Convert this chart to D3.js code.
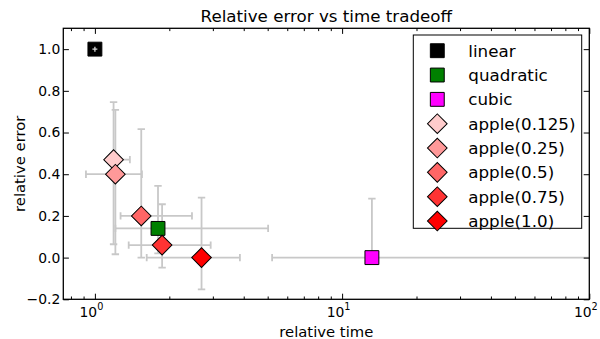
<!DOCTYPE html>
<html>
<head>
<meta charset="utf-8">
<script src="https://cdn.jsdelivr.net/npm/d3@7"></script>
<style>
  body { margin: 0; background: #fff; }
  svg { font-family: 'DejaVu Sans', sans-serif; display: block; }
</style>
</head>
<body>
<div id="chart"></div>
<script>
// values
const seriesNames = ['linear', 'quadratic', 'cubic', 'apple(0.125)', 'apple(0.25)', 'apple(0.5)', 'apple(0.75)', 'apple(1.0)'];
const relTime = [1.0, 1.80, 13.2, 1.19, 1.21, 1.54, 1.87, 2.70];
const relTimeLow = [0.977, 1.21, 5.21, 1.19, 0.92, 1.27, 1.37, 1.62];
const relTimeHigh = [1.023, 5.02, 150, 1.385, 1.55, 2.47, 2.94, 3.86];
const relError = [1.0, 0.14, 0.0, 0.47, 0.40, 0.20, 0.06, 0.0];
const relErrorLow = [0.988, 0.02, 0.0, 0.064, 0.016, 0.0, -0.048, -0.152];
const relErrorHigh = [1.012, 0.344, 0.283, 0.746, 0.709, 0.616, 0.256, 0.288];
const markerKinds = ['square', 'square', 'square', 'diamond', 'diamond', 'diamond', 'diamond', 'diamond'];
const markerColors = ['#000000', '#008000', '#ff00ff', '#ffcccc', '#ff9999', '#ff6666', '#ff3333', '#ff0000'];
const xTickValues = [1, 10, 100];
const xTickExponents = ['0', '1', '2'];
const xMinorTicks = [0.8, 0.9, 2, 3, 4, 5, 6, 7, 8, 9, 20, 30, 40, 50, 60, 70, 80, 90];
const yTickValues = [-0.2, 0, 0.2, 0.4, 0.6, 0.8, 1.0];

const svgWidth = 600;
const svgHeight = 339;
const margin = {top: 28.3, right: 10.7, bottom: 39.7, left: 63.3};
const width = svgWidth - margin.left - margin.right;
const height = svgHeight - margin.top - margin.bottom;

const points = seriesNames.map((name, i) => ({
  name,
  x: relTime[i], x0: relTimeLow[i], x1: relTimeHigh[i],
  y: relError[i], y0: relErrorLow[i], y1: relErrorHigh[i],
  kind: markerKinds[i], color: markerColors[i]
}));

const svg = d3.select('#chart').append('svg')
  .attr('width', svgWidth)
  .attr('height', svgHeight);

const g = svg.append('g')
  .attr('transform', `translate(${margin.left},${margin.top})`);

const xScale = d3.scaleLog().domain([0.745, 100]).range([0, width]);
const yScale = d3.scaleLinear().domain([-0.2, 1.1]).range([height, 0]);

const square = d3.symbol().type(d3.symbolSquare).size(193)();

g.append('clipPath').attr('id', 'plot-clip')
  .append('rect').attr('width', width).attr('height', height);

const plot = g.append('g').attr('clip-path', 'url(#plot-clip)');

// error bars, caps at both ends
function drawBars(sel, capHalf) {
  sel.append('line')
    .attr('x1', d => xScale(d.x0)).attr('x2', d => xScale(d.x1))
    .attr('y1', d => yScale(d.y)).attr('y2', d => yScale(d.y));
  sel.append('line')
    .attr('x1', d => xScale(d.x)).attr('x2', d => xScale(d.x))
    .attr('y1', d => yScale(d.y0)).attr('y2', d => yScale(d.y1));
  if (capHalf > 0) {
    [d => d.x0, d => d.x1].forEach(fx => {
      sel.append('line')
        .attr('x1', d => xScale(fx(d))).attr('x2', d => xScale(fx(d)))
        .attr('y1', d => yScale(d.y) - capHalf).attr('y2', d => yScale(d.y) + capHalf);
    });
    [d => d.y0, d => d.y1].forEach(fy => {
      sel.append('line')
        .attr('x1', d => xScale(d.x) - capHalf).attr('x2', d => xScale(d.x) + capHalf)
        .attr('y1', d => yScale(fy(d))).attr('y2', d => yScale(fy(d)));
    });
  }
}

// linear's bars fit inside its marker and show on top of it
const smallBars = d => d.name === 'linear';

plot.append('g')
  .attr('stroke', '#c8c8c8').attr('stroke-width', 1.8)
  .selectAll('g').data(points.filter(d => !smallBars(d))).enter().append('g')
  .call(drawBars, 3.7);

plot.append('g').selectAll('path')
  .data(points).enter().append('path')
  .attr('d', square)
  .attr('transform', d => `translate(${xScale(d.x)},${yScale(d.y)})` + (d.kind === 'diamond' ? ' rotate(45)' : ''))
  .attr('fill', d => d.color)
  .attr('stroke', '#000')
  .attr('stroke-width', 1);

plot.append('g')
  .attr('stroke', '#d8d8d8').attr('stroke-width', 1.3)
  .selectAll('g').data(points.filter(smallBars)).enter().append('g')
  .call(drawBars, 0);

// axes, ticks pointing inwards on all four sides
const axisBottom = g.append('g').attr('transform', `translate(0,${height})`)
  .call(d3.axisBottom(xScale).tickValues(xTickValues).tickSizeInner(-5.6).tickSizeOuter(0).tickFormat(''));
g.append('g').attr('transform', `translate(0,${height})`)
  .call(d3.axisBottom(xScale).tickValues(xMinorTicks).tickSizeInner(-2.8).tickSizeOuter(0).tickFormat(''));
g.append('g')
  .call(d3.axisTop(xScale).tickValues(xTickValues).tickSizeInner(-5.6).tickSizeOuter(0).tickFormat(''));
g.append('g')
  .call(d3.axisTop(xScale).tickValues(xMinorTicks).tickSizeInner(-2.8).tickSizeOuter(0).tickFormat(''));
const axisLeft = g.append('g')
  .call(d3.axisLeft(yScale).tickValues(yTickValues).tickSizeInner(-5.6).tickSizeOuter(0).tickPadding(3).tickFormat(d3.format('.1f')));
g.append('g').attr('transform', `translate(${width},0)`)
  .call(d3.axisRight(yScale).tickValues(yTickValues).tickSizeInner(-5.6).tickSizeOuter(0).tickFormat(''));

g.selectAll('.domain').remove();
g.selectAll('.tick line').attr('stroke', '#000').attr('stroke-width', 1);

axisLeft.selectAll('text')
  .attr('font-size', 13.9)
  .attr('font-family', 'DejaVu Sans')
  .attr('fill', '#000');

// 10^n labels
axisBottom.selectAll('.tick').each(function(d, i) {
  const t = d3.select(this).append('text')
    .attr('x', -4).attr('y', 17.4)
    .attr('text-anchor', 'middle')
    .attr('font-size', 13.9)
    .attr('font-family', 'DejaVu Sans')
    .attr('fill', '#000');
  t.append('tspan').text('10');
  t.append('tspan').attr('font-size', 9.7).attr('dy', -6.7).text(xTickExponents[i]);
});

g.append('rect')
  .attr('width', width).attr('height', height)
  .attr('fill', 'none').attr('stroke', '#000').attr('stroke-width', 1.3);

// titles
svg.append('text')
  .attr('x', margin.left + width / 2).attr('y', 22.2)
  .attr('text-anchor', 'middle').attr('font-size', 16.7)
  .text('Relative error vs time tradeoff');

svg.append('text')
  .attr('x', margin.left + width / 2).attr('y', 336.5)
  .attr('text-anchor', 'middle').attr('font-size', 14.8)
  .text('relative time');

svg.append('text')
  .attr('transform', `translate(24.5,${margin.top + height / 2}) rotate(-90)`)
  .attr('text-anchor', 'middle').attr('font-size', 14.8)
  .text('relative error');

// legend
const legend = svg.append('g').attr('transform', 'translate(413.3,35)');
legend.append('rect')
  .attr('width', 168.4).attr('height', 193.3)
  .attr('fill', '#fff').attr('stroke', '#000').attr('stroke-width', 1);

const rows = legend.selectAll('.row').data(points).enter().append('g')
  .attr('class', 'row')
  .attr('transform', (d, i) => `translate(0,${15.7 + i * 24.33})`);
rows.append('path')
  .attr('d', square)
  .attr('transform', d => 'translate(24,0)' + (d.kind === 'diamond' ? ' rotate(45)' : ''))
  .attr('fill', d => d.color)
  .attr('stroke', '#000').attr('stroke-width', 1);
rows.append('text')
  .attr('x', 55).attr('y', 6)
  .attr('font-size', 16.7)
  .text(d => d.name);
</script>
</body>
</html>
